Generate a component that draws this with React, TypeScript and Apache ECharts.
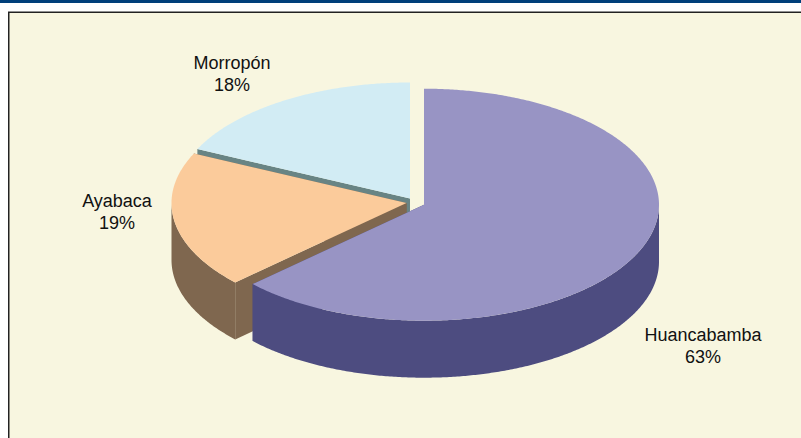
import React, { useEffect, useRef } from "react";
import * as echarts from "echarts";

const categories = ["Huancabamba", "Ayabaca", "Morropón"];
const values = [63, 19, 18];
const topColors = ["#9894C4", "#FBCB9B", "#D2ECF4"];
const sideColors = ["#4D4C80", "#7F674F", "#688484"];

const RX = 235;
const RY = 116;
const DEPTH = 57;
const centers = [
  [424, 204.7],
  [406.5, 203],
  [410, 198.5],
];
const labelPos = [
  [703, 346],
  [117, 212],
  [232, 74],
];
const LINE = 22;
// back slices are painted first so the front ones overlap them
const drawOrder = [2, 1, 0];

const total = values.reduce((a, b) => a + b, 0);

export default function App() {
  const ref = useRef<HTMLDivElement>(null);
  useEffect(() => {
    document.body.style.margin = "0";
    const chart = echarts.init(ref.current!, undefined, { renderer: "svg" });

    const starts: number[] = [];
    values.reduce((acc, v, i) => {
      starts[i] = acc;
      return acc + v;
    }, 0);

    const renderItem = (_p: any, api: any) => {
      const v = api.value(0);
      const i = api.value(1);
      const a0 = (starts[i] / total) * 360;
      const a1 = a0 + (v / total) * 360;
      const [cx, cy] = centers[i];
      const pt = (deg: number, dy = 0) => {
        const r = (deg * Math.PI) / 180;
        return [cx + RX * Math.sin(r), cy - RY * Math.cos(r) + dy];
      };
      const arc = (from: number, to: number, dy = 0) => {
        const out: number[][] = [];
        const n = Math.max(2, Math.ceil((to - from) * 2));
        for (let k = 0; k <= n; k++) out.push(pt(from + ((to - from) * k) / n, dy));
        return out;
      };
      const side = { fill: sideColors[i] };
      const children: any[] = [];
      const face = (deg: number) => ({
        type: "polygon",
        shape: {
          points: [[cx, cy], pt(deg), pt(deg, DEPTH), [cx, cy + DEPTH]],
        },
        style: side,
      });
      children.push(face(a0), face(a1));
      const w0 = Math.max(a0, 90);
      const w1 = Math.min(a1, 270);
      if (w1 > w0) {
        children.push({
          type: "polygon",
          shape: { points: [...arc(w0, w1), ...arc(w0, w1, DEPTH).reverse()] },
          style: side,
        });
      }
      children.push({
        type: "polygon",
        shape: { points: [[cx, cy], ...arc(a0, a1)] },
        style: { fill: topColors[i] },
      });
      const [lx, ly] = labelPos[i];
      children.push({
        type: "text",
        x: lx,
        y: ly,
        style: {
          text: `${categories[i]}\n${v}%`,
          fontFamily: "Liberation Sans",
          fontSize: 18,
          lineHeight: LINE,
          fill: "#111111",
          align: "center",
          verticalAlign: "middle",
        },
        z2: 10,
      });
      return { type: "group", children };
    };

    chart.setOption({
      animation: false,
      backgroundColor: "#FFFFFF",
      graphic: [
        { type: "rect", z: 0, shape: { x: 0, y: 0, width: 801, height: 3 }, style: { fill: "#003F7A" } },
        { type: "rect", z: 0, shape: { x: 8, y: 11.5, width: 793, height: 426.5 }, style: { fill: "#222222" } },
        { type: "rect", z: 0, shape: { x: 9.5, y: 13, width: 791.5, height: 425 }, style: { fill: "#F8F6E0" } },
      ],
      series: [
        {
          type: "custom",
          coordinateSystem: "none",
          z: 5,
          renderItem,
          data: drawOrder.map((i) => [values[i], i]),
          silent: true,
        },
      ],
    });
    return () => chart.dispose();
  }, []);
  return <div ref={ref} style={{ width: 801, height: 438 }} />;
}
